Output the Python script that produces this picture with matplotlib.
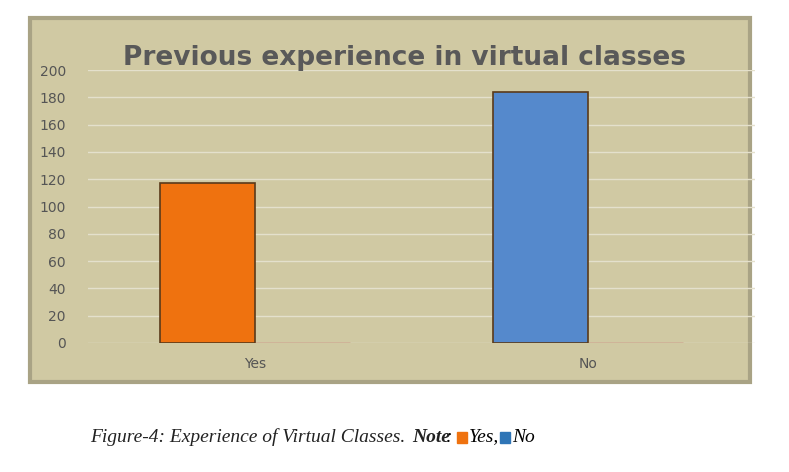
import matplotlib
matplotlib.use("Agg")
import matplotlib.pyplot as plt
from matplotlib.patches import Rectangle

categories = ["Yes", "No"]
series1 = [117, 184]
series2 = [0, 0]
colors1 = ["#ef720f", "#5589cc"]
yticks = [0, 20, 40, 60, 80, 100, 120, 140, 160, 180, 200]

W, H = 789, 472
fig = plt.figure(figsize=(W/100, H/100), dpi=100)
fig.patch.set_facecolor("white")
panel = Rectangle((30/W, 1-382/H), 720/W, 364/H, transform=fig.transFigure,
                  facecolor="#d0c9a3", edgecolor="#a9a385", linewidth=3, zorder=-5)
fig.add_artist(panel)

ax = fig.add_axes([88/W, 1-343/H, (755-88)/W, (343-70)/H])
ax.set_zorder(2)
ax.set_facecolor("none")
x = range(len(categories))
w = 0.285
ax.bar([i - w/2 for i in x], series1, width=w, color=colors1, edgecolor="#5a3a1a", linewidth=1.2, zorder=3)
ax.bar([i + w/2 for i in x], series2, width=w, color="#c0504d", edgecolor="#c0504d", linewidth=1, zorder=3)
ax.set_xlim(-0.5, 1.5)
ax.set_ylim(0, 200)
ax.set_yticks(yticks)
ax.set_xticks(list(x))
ax.set_xticklabels(categories)
ax.grid(axis="y", color="#e4e0cc", linewidth=1, zorder=0)
for s in ax.spines.values():
    s.set_visible(False)
ax.tick_params(length=0, labelsize=10, colors="#555555")
ax.tick_params(axis="x", pad=10)
ax.tick_params(axis="y", pad=16)

fig.text(405/W, 1-58/H, "Previous experience in virtual classes", ha="center", va="center",
         fontsize=19, fontweight="bold", color="#595959", zorder=3)
yc = 1-437/H
fig.text(410/W, yc, "Figure-4: Experience of Virtual Classes. ", ha="right", va="center",
         fontsize=14, family="Liberation Serif", style="italic", color="#222222")
fig.text(412/W, yc, "Note", ha="left", va="center", fontsize=14, family="Liberation Serif",
         style="italic", weight="bold", color="#222222")
fig.text(446/W, yc, ":", ha="left", va="center", fontsize=14, family="Liberation Serif", style="italic")
fig.add_artist(Rectangle((457/W, 1-443/H), 10/W, 11/H, transform=fig.transFigure, color="#ef720f"))
fig.text(469/W, yc, "Yes,", ha="left", va="center", fontsize=14, family="Liberation Serif", style="italic")
fig.add_artist(Rectangle((500/W, 1-443/H), 10/W, 11/H, transform=fig.transFigure, color="#2f75b6"))
fig.text(512/W, yc, "No", ha="left", va="center", fontsize=14, family="Liberation Serif", style="italic")

fig.savefig("out.png", dpi=100)
